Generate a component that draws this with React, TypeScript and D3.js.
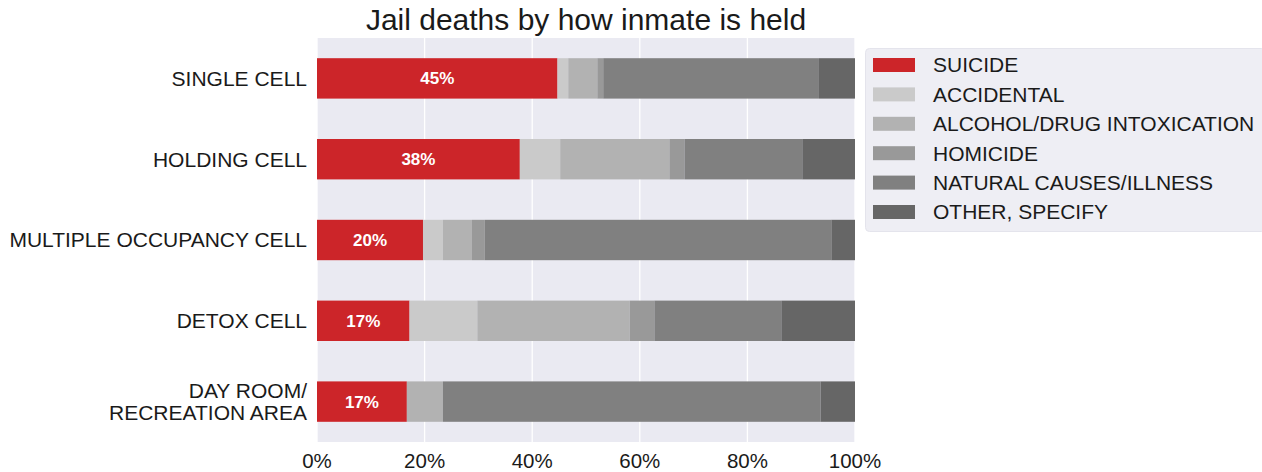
import React from "react";
import * as d3 from "d3";

const categories = ["SINGLE CELL", "HOLDING CELL", "MULTIPLE OCCUPANCY CELL", "DETOX CELL", "DAY ROOM/\nRECREATION AREA"];
const seriesNames = ["SUICIDE", "ACCIDENTAL", "ALCOHOL/DRUG INTOXICATION", "HOMICIDE", "NATURAL CAUSES/ILLNESS", "OTHER, SPECIFY"];
const suicide = [44.7, 37.7, 19.7, 17.2, 16.7];
const accidental = [2.0, 7.5, 3.7, 12.6, 0];
const alcohol = [5.4, 20.3, 5.4, 28.3, 6.7];
const homicide = [1.1, 2.8, 2.4, 4.6, 0];
const natural = [40.1, 21.9, 64.4, 23.6, 70.2];
const other = [6.7, 9.8, 4.4, 13.7, 6.4];
const labels = ["45%", "38%", "20%", "17%", "17%"];
const xTicks = [0, 20, 40, 60, 80, 100];
const colors = ["#cc2529", "#cacaca", "#b2b2b2", "#999999", "#808080", "#666666"];

const W = 1262, H = 472;
const M = { left: 317, right: 855, top: 38, bottom: 442 };
const FONT = "'Liberation Sans', Arial, sans-serif";

export default function App() {
  const series = [suicide, accidental, alcohol, homicide, natural, other];
  const x = d3.scaleLinear().domain([0, 100]).range([M.left, M.right]);
  const y = d3.scaleBand().domain(categories).range([M.top, M.bottom]).paddingInner(0.5).paddingOuter(0.25);
  const rows = categories.map((c, i) => {
    let acc = 0;
    return series.map((s, k) => {
      const seg = { c, k, x0: acc, x1: acc + s[i] };
      acc += s[i];
      return seg;
    });
  });
  return (
    <svg width={W} height={H} style={{ position: "absolute", left: 0, top: 0 }} fontFamily={FONT}>
      <rect x={0} y={0} width={W} height={H} fill="#ffffff" />
      <rect x={M.left} y={M.top} width={M.right - M.left} height={M.bottom - M.top} fill="#eaeaf2" />
      {xTicks.map((t) => (
        <line key={t} x1={x(t)} x2={x(t)} y1={M.top} y2={M.bottom} stroke="#ffffff" strokeWidth={1.3} />
      ))}
      {rows.map((segs, i) =>
        segs.map((s) =>
          s.x1 > s.x0 ? (
            <rect key={i + "-" + s.k} x={x(s.x0)} y={y(s.c)!} width={x(s.x1) - x(s.x0)} height={y.bandwidth()} fill={colors[s.k]} />
          ) : null
        )
      )}
      {categories.map((c, i) => (
        <text key={"l" + i} x={(x(0) + x(suicide[i])) / 2} y={y(c)! + y.bandwidth() / 2} dy="0.35em" textAnchor="middle" fill="#ffffff" fontWeight="bold" fontSize={17}>
          {labels[i]}
        </text>
      ))}
      {categories.map((c, i) => {
        const lines = c.split("\n");
        const cy = y(c)! + y.bandwidth() / 2;
        const lh = 21.5;
        return (
          <text key={"y" + i} x={M.left - 10} y={cy} textAnchor="end" fill="#1a1a1a" fontSize={21}>
            {lines.map((ln, j) => (
              <tspan key={j} x={M.left - 10} y={cy + (j - (lines.length - 1) / 2) * lh} dy="0.35em">
                {ln}
              </tspan>
            ))}
          </text>
        );
      })}
      {xTicks.map((t) => (
        <text key={"x" + t} x={x(t)} y={461} dy="0.35em" textAnchor="middle" fill="#1a1a1a" fontSize={20.5}>
          {t + "%"}
        </text>
      ))}
      <text x={(M.left + M.right) / 2} y={30} textAnchor="middle" fill="#1a1a1a" fontSize={30}>
        Jail deaths by how inmate is held
      </text>
      <g>
        <rect x={865.5} y={48.5} width={400} height={183} rx={4} fill="#eeeef4" stroke="#e4e4ec" />
        {seriesNames.map((n, k) => (
          <g key={n} transform={`translate(0, ${65 + k * 29.4})`}>
            <rect x={873} y={-7} width={42} height={14} fill={colors[k]} />
            <text x={933} y={0} dy="0.35em" fontSize={21} fill="#1a1a1a">
              {n}
            </text>
          </g>
        ))}
      </g>
    </svg>
  );
}
